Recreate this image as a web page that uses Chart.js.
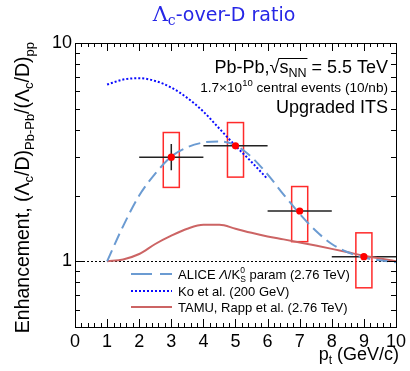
<!DOCTYPE html>
<html>
<head>
<meta charset="utf-8">
<script src="https://cdn.jsdelivr.net/npm/chart.js@4.4.1/dist/chart.umd.min.js"></script>
<style>
  html, body { margin: 0; padding: 0; background: #fff; }
  #wrap { width: 410px; height: 371px; }
</style>
</head>
<body>
<div id="wrap"><canvas id="ratio" width="410" height="371"></canvas></div>
<script>
// model curves (pt in GeV/c, enhancement)
const modelPt = [1, 1.5, 2, 2.5, 3, 3.5, 4, 4.5, 5, 5.5, 6, 6.5, 7, 7.5, 8, 8.5, 9, 9.5, 10];
const aliceParam = [1.0, 1.45, 2.0, 2.52, 3.02, 3.33, 3.5, 3.54, 3.4, 3.0, 2.5, 2.02, 1.65, 1.38, 1.2, 1.1, 1.04, 1.01, 0.99];
const tamuRapp = [1.0, 1.02, 1.08, 1.2, 1.31, 1.41, 1.47, 1.47, 1.41, 1.35, 1.3, 1.26, 1.22, 1.18, 1.14, 1.1, 1.06, 1.03, 1.0];
const koPt = [1, 1.5, 2, 2.5, 3, 3.5, 4, 4.5, 5, 5.5, 6];
const koModel = [6.45, 6.8, 6.9, 6.7, 6.25, 5.6, 4.85, 4.05, 3.38, 2.85, 2.38];

// projected points
const ptBins = [3, 5, 7, 9];
const ptHalfWidth = [1, 1, 1, 1];
const enhancement = [3.0, 3.38, 1.7, 1.05];
const statLow = [2.61, 3.3, 1.66, 1.03];
const statHigh = [3.45, 3.46, 1.74, 1.07];
const systLow = [2.18, 2.43, 1.23, 0.756];
const systHigh = [3.89, 4.32, 2.2, 1.35];

const xTicks = [0, 1, 2, 3, 4, 5, 6, 7, 8, 9, 10];
const yTicks = [1, 10];
const yMinor = [0.6, 0.7, 0.8, 0.9, 2, 3, 4, 5, 6, 7, 8, 9];

const SANS = '"Liberation Sans", Arial, sans-serif';

function fontOf(p) {
    return (p.italic ? 'italic ' : '') + p.size + 'px ' + (p.family || SANS);
}

// draws a run of text pieces with sub/superscripts; a piece with stack:true
// sits under the previous one (same x) instead of following it
function richText(ctx, parts, x, y, align) {
    let w = 0;
    parts.forEach((p, i) => {
        ctx.font = fontOf(p);
        p.w = ctx.measureText(p.t).width;
        if (p.stack) {
            const prev = parts[i - 1];
            w += Math.max(0, p.w - prev.w);
        } else {
            w += p.w;
        }
    });
    let cx = align === 'right' ? x - w : (align === 'center' ? x - w / 2 : x);
    parts.forEach((p, i) => {
        ctx.font = fontOf(p);
        if (p.stack) {
            const prev = parts[i - 1];
            p.x = prev.x;
            ctx.fillText(p.t, p.x, y + (p.dy || 0));
            cx = Math.max(cx, p.x + p.w);
        } else {
            p.x = cx;
            ctx.fillText(p.t, cx, y + (p.dy || 0));
            cx += p.w;
        }
    });
    return parts;
}

const frameTicks = {
    id: 'frameTicks',
    beforeDatasetsDraw(chart) {
        const {ctx, scales: {x, y}} = chart;
        ctx.save();
        // reference line at 1
        ctx.strokeStyle = '#000';
        ctx.lineWidth = 1;
        ctx.setLineDash([2, 2]);
        ctx.beginPath();
        ctx.moveTo(x.getPixelForValue(0), Math.round(y.getPixelForValue(1)) + 0.5);
        ctx.lineTo(x.getPixelForValue(10), Math.round(y.getPixelForValue(1)) + 0.5);
        ctx.stroke();
        ctx.setLineDash([]);

        // systematic boxes
        ctx.strokeStyle = '#ff2a2a';
        ctx.lineWidth = 1.5;
        ptBins.forEach((pt, i) => {
            const x0 = x.getPixelForValue(pt - 0.25), x1 = x.getPixelForValue(pt + 0.25);
            const y0 = y.getPixelForValue(systHigh[i]), y1 = y.getPixelForValue(systLow[i]);
            ctx.strokeRect(x0, y0, x1 - x0, y1 - y0);
        });
        // stat + bin width bars
        ctx.strokeStyle = '#222';
        ctx.lineWidth = 1.5;
        ptBins.forEach((pt, i) => {
            const py = y.getPixelForValue(enhancement[i]);
            const px = x.getPixelForValue(pt);
            ctx.beginPath();
            ctx.moveTo(x.getPixelForValue(pt - ptHalfWidth[i]), py);
            ctx.lineTo(x.getPixelForValue(pt + ptHalfWidth[i]), py);
            ctx.moveTo(px, y.getPixelForValue(statHigh[i]));
            ctx.lineTo(px, y.getPixelForValue(statLow[i]));
            ctx.stroke();
        });
        ctx.restore();
    },
    afterDraw(chart) {
        const {ctx, chartArea: a, scales: {x, y}} = chart;
        ctx.save();
        ctx.strokeStyle = '#000';
        ctx.lineWidth = 1;
        ctx.strokeRect(Math.round(a.left) + 0.5, Math.round(a.top) + 0.5,
            Math.round(a.right - a.left), Math.round(a.bottom - a.top));

        // x ticks, inside, bottom and top
        ctx.beginPath();
        for (let i = 0; i <= 50; i++) {
            const px = Math.round(x.getPixelForValue(i / 5)) + 0.5;
            const len = i % 5 === 0 ? 8 : 4;
            ctx.moveTo(px, a.bottom); ctx.lineTo(px, a.bottom - len);
            ctx.moveTo(px, a.top); ctx.lineTo(px, a.top + len);
        }
        // y ticks, inside, left and right
        yTicks.concat(yMinor).forEach(v => {
            const py = Math.round(y.getPixelForValue(v)) + 0.5;
            const len = yTicks.includes(v) ? 9 : 5;
            ctx.moveTo(a.left, py); ctx.lineTo(a.left + len, py);
            ctx.moveTo(a.right, py); ctx.lineTo(a.right - len, py);
        });
        ctx.stroke();

        ctx.textBaseline = 'alphabetic';

        // title
        ctx.fillStyle = '#2626e6';
        richText(ctx, [
            {t: 'Λ', size: 21, family: '"DejaVu Serif", serif'},
            {t: 'c', size: 14, dy: 4, family: '"DejaVu Serif", serif'},
            {t: '-over-D ratio', size: 19, family: '"DejaVu Sans", sans-serif'}
        ], 224, 21, 'center');

        // collision system text
        ctx.fillStyle = '#000';
        const sq = richText(ctx, [
            {t: 'Pb-Pb,', size: 18},
            {t: '√', size: 18},
            {t: 's', size: 18},
            {t: 'NN', size: 12.5, dy: 4},
            {t: ' = 5.5 TeV', size: 18}
        ], 388, 73, 'right');
        ctx.lineWidth = 1;
        ctx.beginPath();
        ctx.moveTo(sq[1].x + sq[1].w - 1, 58.5);
        ctx.lineTo(sq[3].x + sq[3].w + 1, 58.5);
        ctx.stroke();

        richText(ctx, [
            {t: '1.7×10', size: 13.6},
            {t: '10', size: 9.5, dy: -6},
            {t: ' central events (10/nb)', size: 13.6}
        ], 388, 92, 'right');
        richText(ctx, [{t: 'Upgraded ITS', size: 18}], 388, 113, 'right');

        // legend
        const lx0 = 131, lx1 = 172, tx = 178;
        const rows = [274, 291, 307];
        ctx.lineWidth = 2;
        ctx.strokeStyle = '#6b9bd2';
        ctx.setLineDash([21, 8]);
        ctx.beginPath(); ctx.moveTo(lx0, rows[0]); ctx.lineTo(lx1, rows[0]); ctx.stroke();
        ctx.strokeStyle = '#0a0aff';
        ctx.setLineDash([2, 2]);
        ctx.beginPath(); ctx.moveTo(lx0, rows[1]); ctx.lineTo(lx1, rows[1]); ctx.stroke();
        ctx.strokeStyle = '#cc6464';
        ctx.setLineDash([]);
        ctx.beginPath(); ctx.moveTo(lx0, rows[2]); ctx.lineTo(lx1, rows[2]); ctx.stroke();

        ctx.fillStyle = '#000';
        richText(ctx, [
            {t: 'ALICE ', size: 13},
            {t: 'Λ', size: 13, italic: true},
            {t: '/K', size: 13},
            {t: '0', size: 8.5, dy: -6},
            {t: 'S', size: 8.5, dy: 3, stack: true},
            {t: ' param (2.76 TeV)', size: 13}
        ], tx, rows[0] + 5, 'left');
        richText(ctx, [{t: 'Ko et al. (200 GeV)', size: 13}], tx, rows[1] + 5, 'left');
        richText(ctx, [{t: 'TAMU, Rapp et al. (2.76 TeV)', size: 13}], tx, rows[2] + 5, 'left');

        // x title
        richText(ctx, [
            {t: 'p', size: 18},
            {t: 't', size: 12, dy: 4},
            {t: ' (GeV/c)', size: 18}
        ], 399, 360, 'right');

        // y title, rotated
        ctx.translate(29, 42);
        ctx.rotate(-Math.PI / 2);
        richText(ctx, [
            {t: 'Enhancement, (Λ', size: 19.5},
            {t: 'c', size: 13, dy: 4},
            {t: '/D)', size: 19.5},
            {t: 'Pb-Pb', size: 13, dy: 5},
            {t: '/(Λ', size: 19.5},
            {t: 'c', size: 13, dy: 4},
            {t: '/D)', size: 19.5},
            {t: 'pp', size: 13, dy: 5}
        ], 0, 0, 'right');
        ctx.restore();
    }
};

const toPoints = (xs, ys) => xs.map((v, i) => ({x: v, y: ys[i]}));

new Chart(document.getElementById('ratio'), {
    type: 'line',
    data: {
        datasets: [
            {
                label: 'projection',
                data: toPoints(ptBins, enhancement),
                showLine: false,
                pointRadius: 3.6,
                pointBackgroundColor: '#ff0000',
                pointBorderColor: '#ff0000',
                pointBorderWidth: 0
            },
            {
                label: 'ALICE param',
                data: toPoints(modelPt, aliceParam),
                borderColor: '#6b9bd2',
                borderWidth: 2,
                borderDash: [12, 6],
                pointRadius: 0,
                cubicInterpolationMode: 'monotone'
            },
            {
                label: 'Ko et al.',
                data: toPoints(koPt, koModel),
                borderColor: '#0a0aff',
                borderWidth: 2,
                borderDash: [2, 2],
                pointRadius: 0,
                cubicInterpolationMode: 'monotone'
            },
            {
                label: 'TAMU',
                data: toPoints(modelPt, tamuRapp),
                borderColor: '#cc6464',
                borderWidth: 2,
                pointRadius: 0,
                cubicInterpolationMode: 'monotone'
            }
        ]
    },
    options: {
        responsive: false,
        animation: false,
        devicePixelRatio: 1,
        layout: {padding: {top: 43, right: 11, left: 0, bottom: 0}},
        plugins: {legend: {display: false}, tooltip: {enabled: false}, title: {display: false}},
        scales: {
            x: {
                type: 'linear', min: 0, max: 10,
                grid: {display: false, drawTicks: false},
                border: {display: false},
                afterBuildTicks: s => { s.ticks = xTicks.map(v => ({value: v})); },
                ticks: {font: {family: SANS, size: 18}, color: '#000', padding: 4, maxRotation: 0, autoSkip: false},
                afterFit: s => { s.height = 44; }
            },
            y: {
                type: 'logarithmic', min: 0.5, max: 10,
                grid: {display: false, drawTicks: false},
                border: {display: false},
                afterBuildTicks: s => { s.ticks = yTicks.map(v => ({value: v})); },
                ticks: {font: {family: SANS, size: 18}, color: '#000', padding: 3, autoSkip: false,
                    callback: v => String(v)},
                afterFit: s => { s.width = 75; }
            }
        }
    },
    plugins: [frameTicks]
});
</script>
</body>
</html>
